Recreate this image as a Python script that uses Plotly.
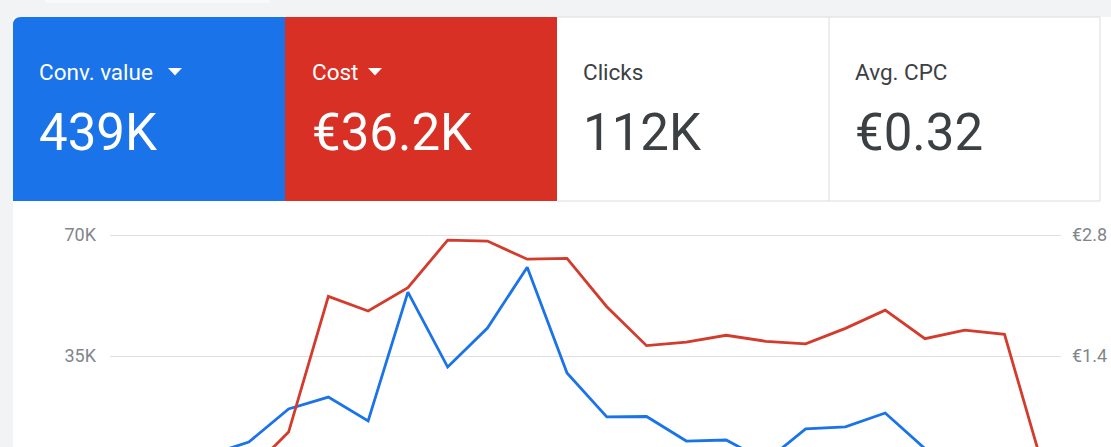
import plotly.graph_objects as go

W, H = 1111, 447

# Scorecards
card_labels = ["Conv. value", "Cost", "Clicks", "Avg. CPC"]
card_values = ["439K", "€36.2K", "112K", "€0.32"]

# Daily series (24 points, first/last ones fall under the visible area)
days = [f"2023-05-{d:02d}" for d in range(1, 25)]
conv_value = [3200, 4300, 6400, 10100, 19700, 23100, 16200, 53500, 31800, 43100,
              60700, 30100, 17400, 17500, 10400, 10700, 4600, 13900, 14500, 18500,
              8200, 4300, 5500, 2000]
cost = [0.05, 0.05, 0.06, 0.06, 0.52, 2.09, 1.92, 2.19, 2.74, 2.73,
        2.52, 2.53, 1.97, 1.52, 1.56, 1.64, 1.57, 1.54, 1.72, 1.93,
        1.60, 1.70, 1.65, 0.06]

left_ticks = [35000, 70000]
left_text = ["35K", "70K"]
right_ticks = [1.4, 2.8]
right_text = ["€1.4", "€2.8"]

BLUE = "#1a73e8"
RED = "#d93025"
GRAY_BG = "#f1f3f4"
BORDER = "#dadce0"


def px(x):
    return x / W


def py(y):
    return 1 - y / H


def pt(x, y):
    return f"{px(x):.5f},{py(y):.5f}"


fig = go.Figure()
fig.add_trace(go.Scatter(x=days, y=conv_value, mode="lines", name="Conv. value",
                         line=dict(color=BLUE, width=2.8), yaxis="y"))
fig.add_trace(go.Scatter(x=days, y=cost, mode="lines", name="Cost",
                         line=dict(color="#d33b2c", width=2.8), yaxis="y2"))

shapes = []
# page background around the card
shapes.append(dict(type="rect", xref="paper", yref="paper", x0=0, x1=1, y0=py(17), y1=1,
                   fillcolor=GRAY_BG, line_width=0, layer="below"))
shapes.append(dict(type="rect", xref="paper", yref="paper", x0=0, x1=px(13), y0=0, y1=1,
                   fillcolor=GRAY_BG, line_width=0, layer="below"))
shapes.append(dict(type="rect", xref="paper", yref="paper", x0=px(45), x1=px(270), y0=py(3), y1=1,
                   fillcolor="#f8f9fa", line_width=0, layer="below"))
# blue card with rounded corner
shapes.append(dict(type="path", xref="paper", yref="paper", layer="below",
                   path=f"M {pt(13, 201)} L {pt(13, 25)} Q {pt(13, 17)} {pt(21, 17)} "
                        f"L {pt(285, 17)} L {pt(285, 201)} Z",
                   fillcolor=BLUE, line_width=0))
shapes.append(dict(type="rect", xref="paper", yref="paper", x0=px(285), x1=px(557),
                   y0=py(201), y1=py(17), fillcolor=RED, line_width=0, layer="below"))
# borders of the white cards
for x0, y0, x1, y1 in [(557, 201, 1100, 201), (829, 17, 829, 201), (1100, 17, 1100, 201),
                       (557, 17, 1100, 17)]:
    shapes.append(dict(type="line", xref="paper", yref="paper", x0=px(x0), y0=py(y0),
                       x1=px(x1), y1=py(y1), line=dict(color=BORDER, width=1), layer="below"))
# dropdown triangles
for tx in [168, 368]:
    shapes.append(dict(type="path", xref="paper", yref="paper",
                       path=f"M {pt(tx, 68)} L {pt(tx + 14, 68)} L {pt(tx + 7, 75.5)} Z",
                       fillcolor="white", line_width=0))

annotations = []
card_x = [37, 310, 581, 853]
for i, (lab, val) in enumerate(zip(card_labels, card_values)):
    col = "white" if i < 2 else "#3c4043"
    annotations.append(dict(text=lab, x=px(card_x[i]), y=py(72), xref="paper", yref="paper",
                            xanchor="left", yanchor="middle", showarrow=False,
                            font=dict(family="Roboto", size=22.5, color=col)))
    annotations.append(dict(text=val, x=px(card_x[i]), y=py(132), xref="paper", yref="paper",
                            xanchor="left", yanchor="middle", showarrow=False,
                            font=dict(family="Roboto", size=51, color=col)))

# map pixel rows of the reference to axis values (0 at y=477, 35K every 121px)
def left_val(y):
    return (477 - y) * 35000 / 121


lo, hi = left_val(447), left_val(215)

fig.update_layout(
    width=W, height=H,
    margin=dict(l=0, r=0, t=0, b=0),
    paper_bgcolor="white", plot_bgcolor="rgba(0,0,0,0)",
    showlegend=False,
    shapes=shapes, annotations=annotations,
    xaxis=dict(type="category", domain=[px(110), px(1061)], range=[-0.49, 23.42],
               showgrid=False, zeroline=False, showticklabels=False, showline=False),
    yaxis=dict(domain=[0, py(215)], range=[lo, hi], tickvals=left_ticks, ticktext=left_text,
               showgrid=True, gridcolor="#e0e0e0", gridwidth=1.2, zeroline=False,
               showline=False, ticks="", ticklabelstandoff=13,
               tickfont=dict(family="Roboto", size=18, color="#80868b")),
    yaxis2=dict(overlaying="y", side="right", range=[lo / 25000, hi / 25000],
                tickvals=right_ticks, ticktext=right_text,
                showgrid=False, zeroline=False, showline=False, ticks="",
                ticklabelstandoff=10,
                tickfont=dict(family="Roboto", size=18, color="#80868b")),
)

# drop the default page margin so the figure sits at the window's corner
fig.write_html("out.html", config={"displayModeBar": False},
               post_script="document.body.style.margin='0';")
